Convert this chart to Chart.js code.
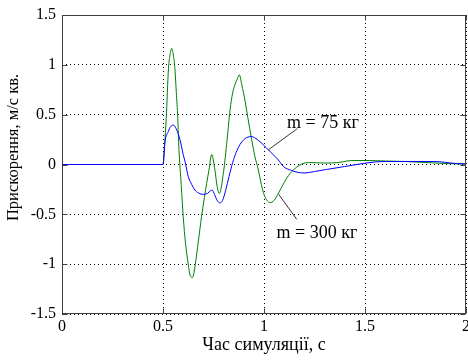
<!DOCTYPE html>
<html>
<head>
<meta charset="utf-8">
<script src="https://cdn.jsdelivr.net/npm/chart.js@4.4.0/dist/chart.umd.min.js"></script>
<style>
  html, body { margin: 0; padding: 0; background: #fff; }
</style>
</head>
<body>
<canvas id="chart" width="468" height="361"></canvas>
<script>
// m = 75 kg response
const time75 = [0, 0.5, 0.51, 0.526, 0.538, 0.551, 0.565, 0.584, 0.6, 0.609, 0.625, 0.642, 0.658, 0.675, 0.7, 0.72,
  0.735, 0.744, 0.755, 0.768, 0.782, 0.795, 0.81, 0.827, 0.845, 0.862, 0.881, 0.9, 0.92, 0.939, 0.96, 0.985,
  1.013, 1.04, 1.071, 1.096, 1.137, 1.17, 1.203, 1.25, 1.31, 1.4, 1.49, 1.55, 1.607, 1.7, 1.84, 1.95, 2.0];
const accel75 = [0, 0, 0.23, 0.33, 0.38, 0.396, 0.36, 0.25, 0.1, 0.03, -0.12, -0.2, -0.256, -0.285, -0.3, -0.29,
  -0.265, -0.258, -0.3, -0.36, -0.385, -0.36, -0.26, -0.12, 0.02, 0.12, 0.2, 0.25, 0.275, 0.28, 0.26, 0.22,
  0.165, 0.11, 0.045, -0.02, -0.06, -0.08, -0.085, -0.07, -0.05, -0.02, 0.01, 0.025, 0.03, 0.03, 0.03, 0.01, 0.005];

// m = 300 kg response
const time300 = [0, 0.5, 0.508, 0.516, 0.527, 0.535, 0.543, 0.551, 0.559, 0.566, 0.573, 0.579, 0.59, 0.6, 0.612,
  0.625, 0.634, 0.646, 0.66, 0.675, 0.691, 0.705, 0.716, 0.728, 0.741, 0.757, 0.768, 0.779, 0.798, 0.815, 0.832,
  0.845, 0.856, 0.868, 0.878, 0.89, 0.906, 0.92, 0.939, 0.955, 0.972, 0.987, 1.0, 1.015, 1.03, 1.05, 1.071, 1.1,
  1.129, 1.16, 1.187, 1.22, 1.3, 1.37, 1.41, 1.45, 1.51, 1.6, 1.7, 1.8, 1.9, 2.0];
const accel300 = [0, 0, 0.2, 0.46, 0.96, 1.1, 1.165, 1.1, 0.96, 0.72, 0.47, 0.15, -0.2, -0.52, -0.8,
  -1.0, -1.11, -1.135, -1.0, -0.77, -0.52, -0.33, -0.19, -0.05, 0.1, -0.055, -0.22, -0.29, -0.1, 0.2, 0.55,
  0.72, 0.8, 0.86, 0.9, 0.8, 0.64, 0.47, 0.25, 0.08, -0.055, -0.2, -0.3, -0.36, -0.383, -0.36, -0.29, -0.18,
  -0.09, -0.03, 0.005, 0.02, 0.015, 0.02, 0.035, 0.04, 0.04, 0.035, 0.03, 0.02, 0.01, 0.005];

const xTicks = [0, 0.5, 1, 1.5, 2];
const yTicks = [-1.5, -1, -0.5, 0, 0.5, 1, 1.5];

const xTitle = 'Час симуляції, с';
const yTitle = 'Прискорення, м/с кв.';

// callouts: text centre, then leader line start/end (data units)
const calloutText = ['m = 75 кг', 'm = 300 кг'];
const calloutPos = [[1.292, 0.41], [1.262, -0.69]];
const calloutLine = [[[1.165, 0.36], [1.02, 0.145]], [[1.162, -0.55], [1.073, -0.3]]];

const serifFamily = '"Liberation Serif", "Times New Roman", serif';
const tickFont = { family: serifFamily, size: 16 };
const titleFont = { family: serifFamily, size: 18 };

function pts(xs, ys) {
  return xs.map((x, i) => ({ x: x, y: ys[i] }));
}

// box + inward ticks + callouts, like the matlab figure
const framePlugin = {
  id: 'frame',
  afterDatasetsDraw(chart) {
    const { ctx, chartArea: a, scales: { x, y } } = chart;
    const L = Math.round(a.left) + 0.5, R = Math.round(a.right) - 0.5;
    const T = Math.round(a.top) + 0.5, B = Math.round(a.bottom) - 0.5;
    ctx.save();
    ctx.strokeStyle = '#404040';
    ctx.lineWidth = 1;
    ctx.strokeRect(L, T, R - L, B - T);
    ctx.beginPath();
    xTicks.forEach(v => {
      const px = Math.round(x.getPixelForValue(v)) + 0.5;
      ctx.moveTo(px, B); ctx.lineTo(px, B - 5);
      ctx.moveTo(px, T); ctx.lineTo(px, T + 5);
    });
    yTicks.forEach(v => {
      const py = Math.round(y.getPixelForValue(v)) + 0.5;
      ctx.moveTo(L, py); ctx.lineTo(L + 5, py);
      ctx.moveTo(R, py); ctx.lineTo(R - 5, py);
    });
    ctx.stroke();

    ctx.strokeStyle = '#333';
    ctx.beginPath();
    calloutLine.forEach(([p, q]) => {
      ctx.moveTo(x.getPixelForValue(p[0]), y.getPixelForValue(p[1]));
      ctx.lineTo(x.getPixelForValue(q[0]), y.getPixelForValue(q[1]));
    });
    ctx.stroke();

    ctx.fillStyle = '#000';
    ctx.font = '18px ' + serifFamily;
    ctx.textAlign = 'center';
    ctx.textBaseline = 'middle';
    calloutText.forEach((t, i) => {
      ctx.fillText(t, x.getPixelForValue(calloutPos[i][0]), y.getPixelForValue(calloutPos[i][1]));
    });

    // y label sits a bit above the axis centre in the original
    ctx.font = '16.5px ' + serifFamily;
    ctx.translate(14, (a.top + a.bottom) / 2 - 17);
    ctx.rotate(-Math.PI / 2);
    ctx.fillText(yTitle, 0, 0);
    ctx.restore();
  }
};

const bgPlugin = {
  id: 'bg',
  beforeDraw(chart) {
    const ctx = chart.ctx;
    ctx.save();
    ctx.fillStyle = '#fff';
    ctx.fillRect(0, 0, chart.width, chart.height);
    ctx.restore();
  }
};

new Chart(document.getElementById('chart'), {
  type: 'line',
  data: {
    datasets: [
      { label: 'm = 75 кг', data: pts(time75, accel75), borderColor: '#0000ff' },
      { label: 'm = 300 кг', data: pts(time300, accel300), borderColor: '#008000' }
    ]
  },
  options: {
    responsive: false,
    animation: false,
    devicePixelRatio: 1,
    layout: { padding: { top: 15, right: 2, left: 0, bottom: 0 } },
    elements: {
      point: { radius: 0 },
      line: { borderWidth: 1, cubicInterpolationMode: 'monotone', fill: false }
    },
    plugins: { legend: { display: false }, tooltip: { enabled: false } },
    scales: {
      x: {
        type: 'linear',
        min: 0,
        max: 2,
        afterBuildTicks: s => { s.ticks = xTicks.map(v => ({ value: v })); },
        afterFit: s => { s.height = 47; s.paddingLeft = 0; s.paddingRight = 0; },
        ticks: { font: tickFont, color: '#000', padding: 3, maxRotation: 0, callback: v => String(v) },
        grid: { color: '#000', lineWidth: 1, drawTicks: false },
        border: { display: false, dash: [1, 3] },
        title: { display: true, text: xTitle, font: titleFont, color: '#000', padding: { top: 0, bottom: 5 } }
      },
      y: {
        min: -1.5,
        max: 1.5,
        afterBuildTicks: s => { s.ticks = yTicks.map(v => ({ value: v })); },
        afterFit: s => { s.width = 62; s.paddingTop = 0; s.paddingBottom = 0; },
        ticks: { font: tickFont, color: '#000', padding: 6, callback: v => String(v) },
        grid: { color: '#000', lineWidth: 1, drawTicks: false },
        border: { display: false, dash: [1, 3] }
      }
    }
  },
  plugins: [bgPlugin, framePlugin]
});
</script>
</body>
</html>
